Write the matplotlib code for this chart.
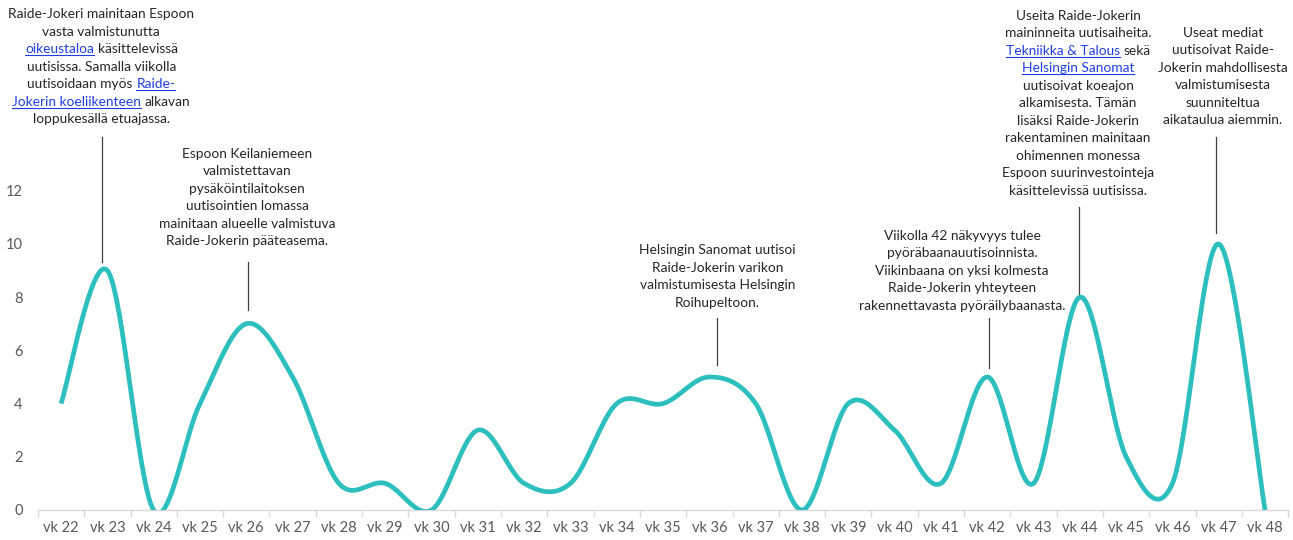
import matplotlib
matplotlib.use("Agg")
import matplotlib.pyplot as plt
import numpy as np
from matplotlib.font_manager import FontProperties
from matplotlib.lines import Line2D
from matplotlib.transforms import IdentityTransform

# --- data ---
weeks = [f"vk {n}" for n in range(22, 49)]
mentions = [4, 9, 0, 4, 7, 5, 1, 1, 0, 3, 1, 1, 4, 4, 5, 4, 0, 4, 3, 1, 5, 1, 8, 2, 1, 10, 0]
y_ticks = [0, 2, 4, 6, 8, 10, 12]

# annotation texts: each line is a list of (text, is_link)
note_vk23 = [
    [("Raide-Jokeri mainitaan Espoon", False)],
    [("vasta valmistunutta", False)],
    [("oikeustaloa", True), (" käsittelevissä", False)],
    [("uutisissa. Samalla viikolla", False)],
    [("uutisoidaan myös ", False), ("Raide-", True)],
    [("Jokerin koeliikenteen", True), (" alkavan", False)],
    [("loppukesällä etuajassa.", False)],
]
note_vk26 = [
    [("Espoon Keilaniemeen", False)],
    [("valmistettavan", False)],
    [("pysäköintilaitoksen", False)],
    [("uutisointien lomassa", False)],
    [("mainitaan alueelle valmistuva", False)],
    [("Raide-Jokerin pääteasema.", False)],
]
note_vk36 = [
    [("Helsingin Sanomat uutisoi", False)],
    [("Raide-Jokerin varikon", False)],
    [("valmistumisesta Helsingin", False)],
    [("Roihupeltoon.", False)],
]
note_vk42 = [
    [("Viikolla 42 näkyvyys tulee", False)],
    [("pyöräbaanauutisoinnista.", False)],
    [("Viikinbaana on yksi kolmesta", False)],
    [("Raide-Jokerin yhteyteen", False)],
    [("rakennettavasta pyöräilybaanasta.", False)],
]
note_vk44 = [
    [("Useita Raide-Jokerin", False)],
    [("maininneita uutisaiheita.", False)],
    [("Tekniikka & Talous", True), (" sekä", False)],
    [("Helsingin Sanomat", True)],
    [("uutisoivat koeajon", False)],
    [("alkamisesta. Tämän", False)],
    [("lisäksi Raide-Jokerin", False)],
    [("rakentaminen mainitaan", False)],
    [("ohimennen monessa", False)],
    [("Espoon suurinvestointeja", False)],
    [("käsittelevissä uutisissa.", False)],
]
note_vk47 = [
    [("Useat mediat", False)],
    [("uutisoivat Raide-", False)],
    [("Jokerin mahdollisesta", False)],
    [("valmistumisesta", False)],
    [("suunniteltua", False)],
    [("aikataulua aiemmin.", False)],
]

# (lines, text centre x, first line y, leader x, leader top y, leader bottom y) in data units
notes = [
    (note_vk23, 0.87, 18.68, 0.89, 14.02, 9.32),
    (note_vk26, 4.02, 13.42, 4.03, 9.32, 7.52),
    (note_vk36, 14.17, 9.81, 14.17, 7.22, 5.45),
    (note_vk42, 19.46, 10.35, 20.04, 7.22, 5.34),
    (note_vk44, 21.96, 18.61, 21.98, 11.39, 8.08),
    (note_vk47, 25.09, 17.97, 24.94, 14.02, 10.41),
]

LINE_COLOR = "#2DBEBE"
TEXT_COLOR = "#262626"
LINK_COLOR = "#1F3FE6"
AXIS_GRAY = "#D9D9D9"
TICK_TEXT = "#595959"
FONT = "Lato"


def smooth_curve(xs, ys, n=40):
    """Catmull-Rom style smoothing (like a spreadsheet 'smoothed line')."""
    pts = np.column_stack([xs, ys]).astype(float)
    out = [pts[0]]
    for i in range(len(pts) - 1):
        p0 = pts[i - 1] if i > 0 else pts[i]
        p1 = pts[i]
        p2 = pts[i + 1]
        p3 = pts[i + 2] if i + 2 < len(pts) else pts[i + 1]
        c1 = p1 + (p2 - p0) / 6.0
        c2 = p2 - (p3 - p1) / 6.0
        t = np.linspace(0, 1, n)[1:, None]
        seg = ((1 - t) ** 3) * p1 + 3 * ((1 - t) ** 2) * t * c1 + 3 * (1 - t) * t ** 2 * c2 + t ** 3 * p2
        out.extend(seg)
    out = np.array(out)
    return out[:, 0], out[:, 1]


fig = plt.figure(figsize=(12.93, 5.40), dpi=100)
ax = fig.add_axes([0.0293, 0.0556, 0.967, 0.9444])

x = np.arange(len(weeks))
sx, sy = smooth_curve(x, mentions)
ax.plot(sx, sy, color=LINE_COLOR, lw=3.4, solid_capstyle="butt", zorder=3)

ax.set_xlim(-0.5, len(weeks) - 0.5)
ax.set_ylim(0, 19.17)

ax.set_xticks(x)
ax.set_xticklabels(weeks)
ax.set_xticks(np.arange(-0.5, len(weeks)), minor=True)
ax.tick_params(axis="x", which="major", length=0, pad=8, labelsize=10.5, labelcolor=TICK_TEXT)
ax.tick_params(axis="x", which="minor", length=5, width=1, color=AXIS_GRAY)
ax.set_yticks(y_ticks)
ax.tick_params(axis="y", length=0, pad=11, labelsize=10.5, labelcolor=TICK_TEXT)
for lab in ax.get_xticklabels() + ax.get_yticklabels():
    lab.set_family(FONT)

for side in ["top", "right", "left"]:
    ax.spines[side].set_visible(False)
ax.spines["bottom"].set_color(AXIS_GRAY)
ax.spines["bottom"].set_linewidth(1)

# --- annotations, laid out in pixel space so link words can be coloured/underlined ---
renderer = fig.canvas.get_renderer()
fp = FontProperties(family=FONT, size=9.9)
line_gap = 17.5


def text_w(s):
    w, h, d = renderer.get_text_width_height_descent(s, fp, ismath=False)
    return w


for lines, cx, y0, lx, ly1, ly2 in notes:
    cpx, cpy = ax.transData.transform((cx, y0))
    for k, segs in enumerate(lines):
        full = "".join(s for s, _ in segs)
        left = cpx - text_w(full) / 2
        base = cpy - 5 - k * line_gap
        pos = 0
        for s, is_link in segs:
            start = pos + (len(s) - len(s.lstrip()))
            end = pos + len(s.rstrip())
            pos += len(s)
            part = full[start:end]
            xs = left + text_w(full[:end]) - text_w(part)
            color = LINK_COLOR if is_link else TEXT_COLOR
            fig.text(xs, base, part, transform=IdentityTransform(), fontproperties=fp,
                     color=color, ha="left", va="baseline")
            if is_link:
                fig.add_artist(Line2D([xs, xs + text_w(part)], [base - 2, base - 2],
                                      transform=IdentityTransform(), color=LINK_COLOR, lw=0.8))
    ax.plot([lx, lx], [ly1, ly2], color="#404040", lw=0.9, zorder=2)

fig.savefig("out.png", dpi=100)
